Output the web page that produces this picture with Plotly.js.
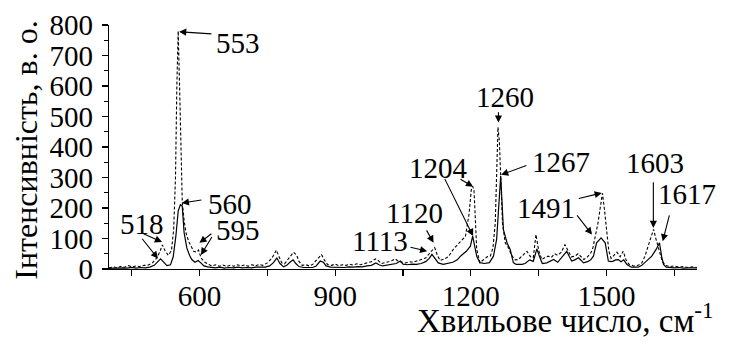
<!DOCTYPE html>
<html>
<head>
<meta charset="utf-8">
<script src="https://cdn.plot.ly/plotly-3.0.1.min.js"></script>
<style>
  html, body { margin: 0; padding: 0; background: #fff; }
  #chart { width: 733px; height: 344px; }
</style>
</head>
<body>
<div id="chart"></div>
<script>
// Raman spectra: solid line (spectrum 1) and dashed line (spectrum 2)
const solidX = [400,410,420,430,440,450,460,470,480,490,500,508,514,520,528,536,542,548,553,558,562,566,572,578,583,590,597,603,610,618,625,635,645,655,665,675,685,695,705,715,725,735,745,755,763,771,778,786,793,800,807,813,820,830,840,850,858,867,874,880,890,900,910,920,930,940,950,960,970,980,990,997,1005,1015,1025,1035,1044,1050,1060,1070,1080,1090,1100,1108,1114,1120,1128,1139,1150,1160,1170,1177,1190,1199,1204,1209,1213,1220,1230,1241,1250,1257,1263,1266,1272,1280,1287,1294,1300,1313,1320,1330,1338,1346,1352,1358,1368,1375,1383,1392,1400,1412,1418,1423,1430,1438,1444,1449,1458,1465,1471,1478,1488,1497,1504,1510,1515,1520,1526,1532,1538,1545,1555,1565,1570,1578,1588,1595,1600,1610,1617,1622,1626,1632,1640,1650,1660,1670,1680,1690,1700];
const solidY = [2,3,2,4,3,5,3,5,4,6,12,25,33,24,11,14,40,110,190,212,205,120,69,45,31,22,28,20,10,7,5,4,6,3,5,4,6,4,5,4,6,5,6,10,20,36,18,7,12,22,30,18,8,5,6,5,10,26,22,10,6,5,6,5,7,6,8,7,10,12,20,14,10,12,15,18,26,16,14,16,15,18,24,35,48,35,20,15,18,22,30,42,58,75,108,70,42,21,18,21,42,97,260,305,129,86,64,21,15,15,18,30,25,66,40,18,20,25,31,22,35,58,40,26,30,37,28,20,24,30,42,86,102,86,26,24,26,30,31,24,30,15,6,5,6,12,26,35,42,65,86,40,15,6,5,4,5,3,4,3,4];

const dashedX = [400,410,418,426,434,443,452,460,468,478,487,496,505,512,518,524,531,538,543,547,550,553,556,559,562,566,570,576,582,587,593,598,604,612,620,628,636,644,652,660,668,676,684,692,700,708,716,724,732,740,750,758,764,770,776,782,788,795,802,808,815,820,827,835,843,851,858,865,870,876,883,892,900,908,916,924,932,940,948,956,964,972,980,989,995,1002,1010,1018,1026,1033,1040,1048,1056,1064,1072,1080,1090,1100,1108,1115,1120,1126,1132,1140,1150,1161,1170,1177,1188,1196,1201,1204,1207,1210,1213,1220,1228,1236,1243,1249,1254,1257,1260,1263,1266,1270,1276,1283,1290,1298,1305,1315,1324,1332,1338,1344,1350,1357,1364,1371,1378,1385,1392,1400,1408,1415,1422,1430,1437,1444,1450,1458,1466,1470,1476,1481,1487,1491,1495,1500,1505,1510,1516,1523,1530,1537,1543,1550,1560,1570,1578,1585,1593,1600,1604,1609,1614,1619,1623,1630,1640,1650,1660,1670,1680,1690,1700];
const dashedY = [4,7,4,9,6,11,7,10,8,12,13,20,35,55,79,60,45,60,130,300,600,780,600,400,220,160,120,91,70,58,55,62,35,22,15,10,14,9,13,8,12,9,14,10,13,9,14,10,15,12,20,32,45,62,40,20,17,30,40,55,45,25,12,14,10,16,28,40,47,30,15,12,16,11,14,12,16,13,17,14,18,20,24,33,28,18,20,24,28,33,25,22,20,24,22,26,30,36,50,62,70,45,28,32,40,64,80,90,107,180,260,271,260,150,64,21,30,40,42,70,152,330,465,420,300,150,86,70,45,30,31,45,58,40,37,113,60,31,38,42,38,50,45,55,80,60,40,42,50,40,31,40,55,70,110,150,210,248,200,140,60,35,45,55,40,58,30,15,10,12,20,42,80,110,130,100,70,40,26,12,8,10,6,8,5,7,5];

// Axis ticks
const xTickVals = [600, 900, 1200, 1500];
const yTickVals = [0, 100, 200, 300, 400, 500, 600, 700, 800];

// Peak labels
const peakLabels = ['518', '553', '560', '595', '1113', '1120', '1204', '1260', '1267', '1491', '1603', '1617'];

const FONT = 'Liberation Serif, DejaVu Serif, serif';

// Label placement (data coordinates of the text centre)
const labelPos = {
  '518': [472.9, 148.9], '553': [686.1, 741.2], '560': [667.3, 213], '595': [686.1, 127],
  '1113': [999.7, 93.3], '1120': [1074.8, 184.9], '1204': [1127.8, 332], '1260': [1275.6, 562.8],
  '1267': [1399.6, 351.8], '1491': [1366.4, 201.2], '1603': [1607.2, 348.5], '1617': [1677.8, 247]
};

// Leader arrows: [tailX, tailY, tipX, tipY]
const arrows = [
  [630.8, 770.6, 555.0, 778],
  [608.7, 227.4, 561.0, 216],
  [630.8, 120.4, 599.9, 85.7],
  [630.8, 112.9, 603.2, 45.8],
  [471.8, 118.5, 517.1, 88.4],
  [468.9, 107.3, 508.2, 34.4],
  [1062.2, 72.6, 1103.5, 58.2],
  [1099.1, 134.8, 1117.5, 85.7],
  [1139.6, 303.7, 1205, 108],
  [1172.7, 298.4, 1205, 270],
  [1261, 522, 1261, 480],
  [1327.3, 342, 1267, 309],
  [1434.2, 229.7, 1489.5, 249.3],
  [1430.5, 183.9, 1468, 112.9],
  [1603.5, 292.9, 1603.5, 134.8],
  [1640.3, 183.9, 1624.2, 91]
];

const traces = [
  {
    x: solidX, y: solidY, type: 'scatter', mode: 'lines',
    line: { color: '#000', width: 1.2 }, showlegend: false, hoverinfo: 'skip'
  },
  {
    x: dashedX, y: dashedY, type: 'scatter', mode: 'lines',
    line: { color: '#000', width: 1.1, dash: '3px,2px' }, showlegend: false, hoverinfo: 'skip'
  }
];

const annotations = [];
peakLabels.forEach(function (t) {
  annotations.push({
    x: labelPos[t][0], y: labelPos[t][1], xref: 'x', yref: 'y',
    text: t, showarrow: false, xanchor: 'center', yanchor: 'middle',
    font: { family: FONT, size: 29, color: '#000' }
  });
});
arrows.forEach(function (a) {
  annotations.push({
    x: a[2], y: a[3], ax: a[0], ay: a[1], xref: 'x', yref: 'y', axref: 'x', ayref: 'y',
    text: ' ', showarrow: true, arrowhead: 2, arrowsize: 1.3, arrowwidth: 1.1,
    arrowcolor: '#000', standoff: 0, startstandoff: 0,
    font: { family: FONT, size: 2 }
  });
});

// Axis titles
annotations.push({
  xref: 'paper', yref: 'paper', x: -0.141, y: 0.485,
  text: 'Інтенсивність, в. о.', textangle: -90, showarrow: false,
  xanchor: 'center', yanchor: 'middle',
  font: { family: FONT, size: 32, color: '#000' }
});
annotations.push({
  xref: 'paper', yref: 'paper', x: 0.776, y: -0.2,
  text: 'Хвильове число, см<sup>-1</sup>', showarrow: false,
  xanchor: 'center', yanchor: 'middle',
  font: { family: FONT, size: 33, color: '#000' }
});

const layout = {
  width: 733, height: 344,
  margin: { l: 108.5, r: 36, t: 25, b: 74.5 },
  paper_bgcolor: '#fff', plot_bgcolor: '#fff',
  font: { family: FONT, color: '#000' },
  xaxis: {
    range: [400, 1700], showgrid: false, zeroline: false,
    showline: true, linecolor: '#000', linewidth: 1.2,
    ticks: 'outside', ticklen: 6, tickwidth: 1.2, tickcolor: '#000',
    tickvals: xTickVals, ticktext: xTickVals.map(String),
    ticklabelstandoff: -5,
    tickfont: { family: FONT, size: 29, color: '#000' },
    minor: { tickvals: [450, 750, 1050, 1350, 1650], ticks: 'outside', ticklen: 6, tickwidth: 1.2, tickcolor: '#000' }
  },
  yaxis: {
    range: [0, 800], showgrid: false, zeroline: false,
    showline: true, linecolor: '#000', linewidth: 1.2,
    ticks: 'outside', ticklen: 6, tickwidth: 1.2, tickcolor: '#000',
    tickvals: yTickVals, ticktext: yTickVals.map(String),
    ticklabelstandoff: 3,
    tickfont: { family: FONT, size: 29, color: '#000' },
    minor: { dtick: 50, ticks: 'outside', ticklen: 3.5, tickwidth: 1.2, tickcolor: '#000' }
  },
  annotations: annotations
};

Plotly.newPlot('chart', traces, layout, { staticPlot: true, displayModeBar: false });
</script>
</body>
</html>
